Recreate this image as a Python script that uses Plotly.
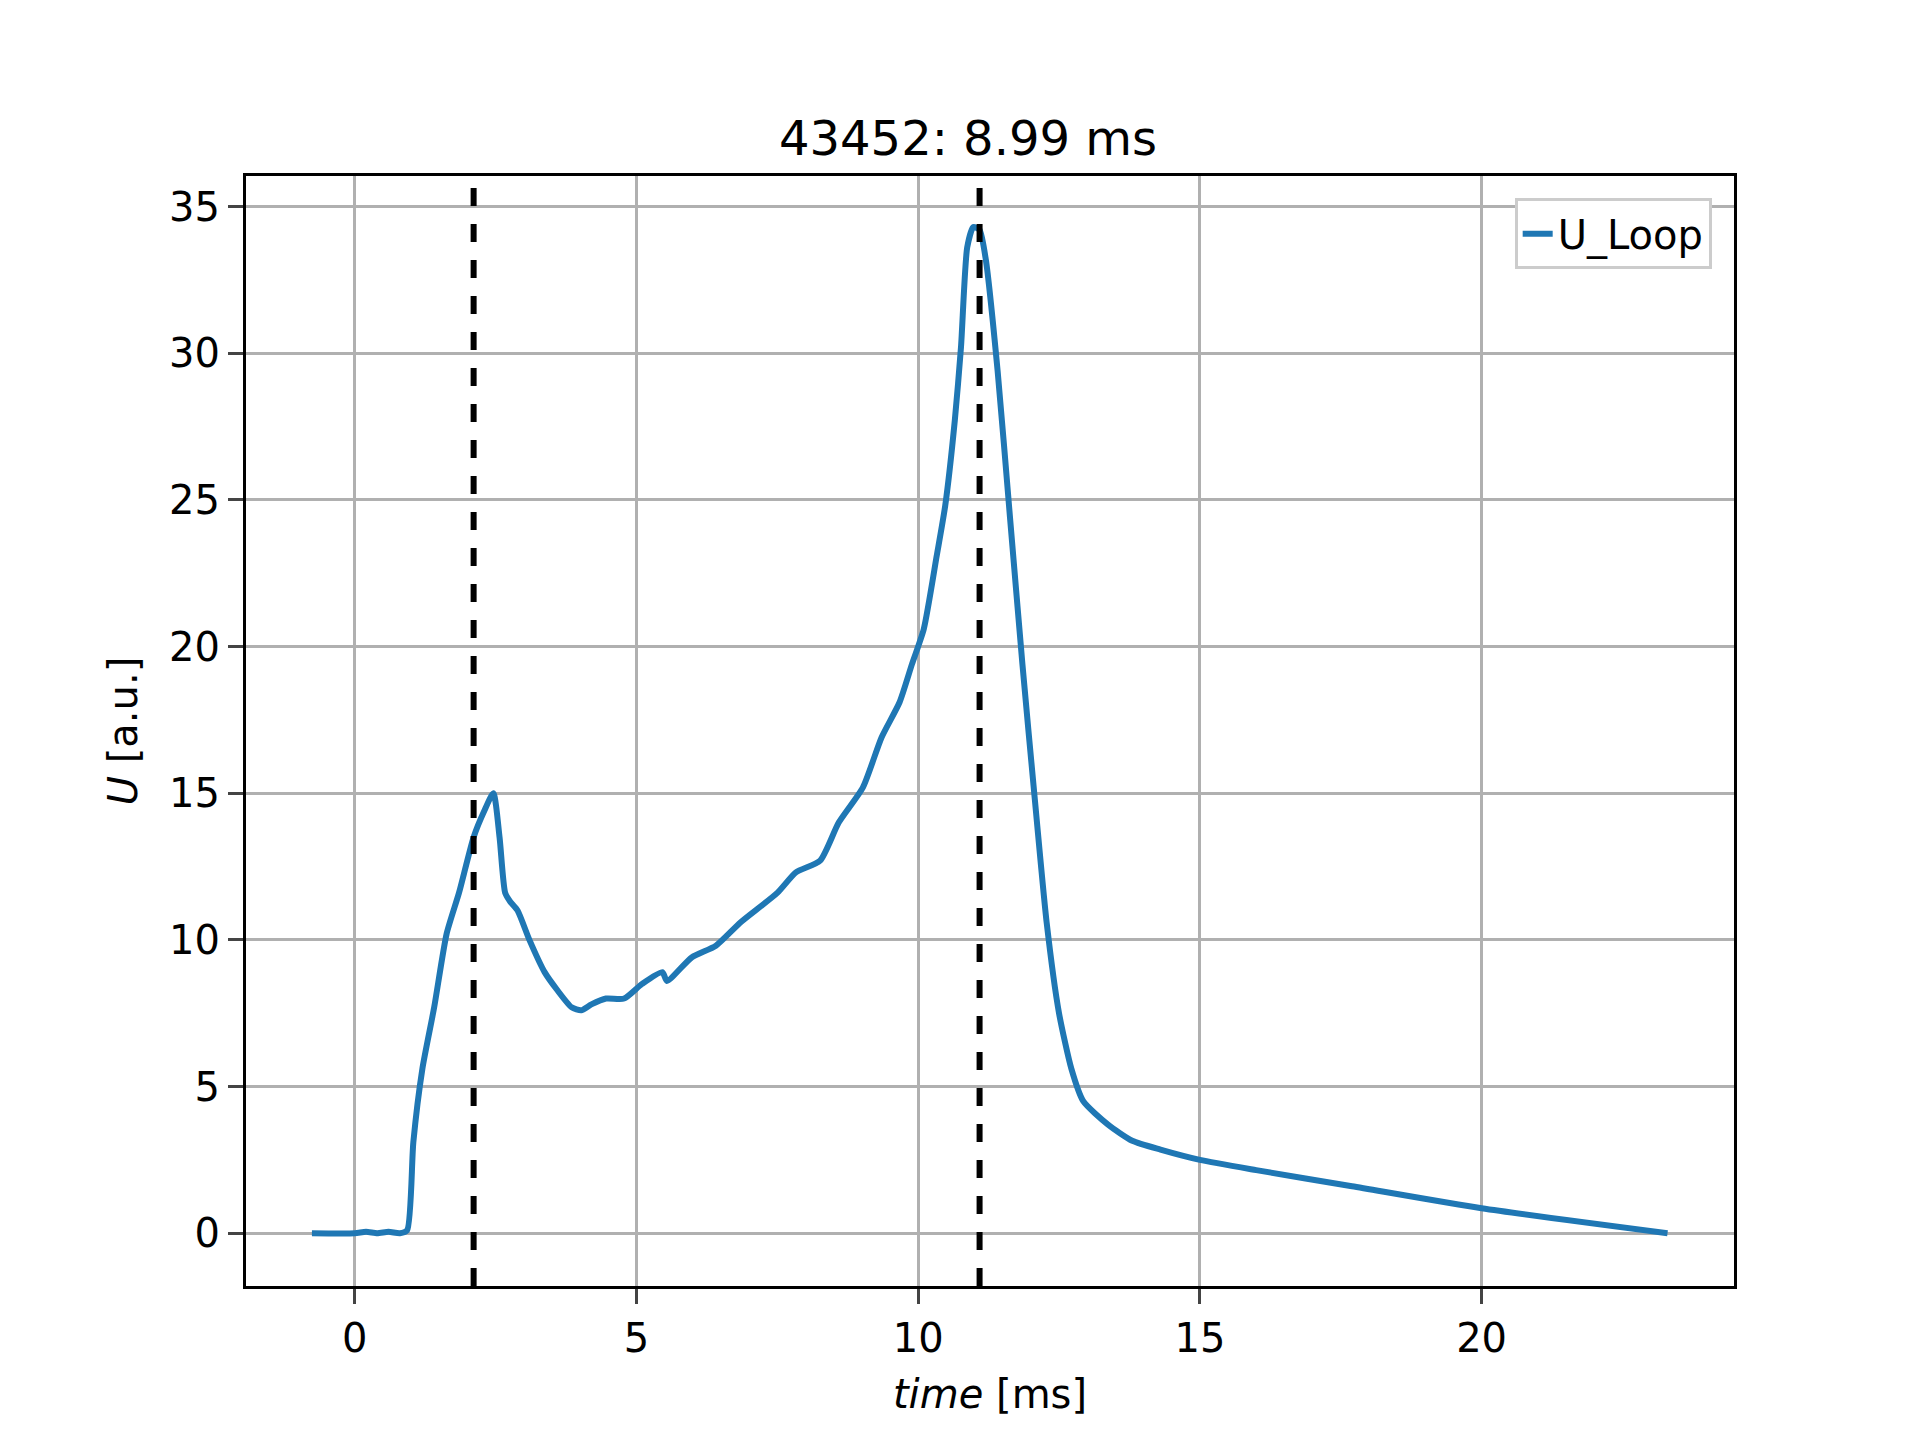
import plotly.graph_objects as go

# loop voltage
time_ms = [-0.76, 0.0, 0.2, 0.4, 0.6, 0.8, 0.93, 1.04, 1.2, 1.41, 1.63, 1.85, 2.11, 2.3, 2.46, 2.57, 2.67,
           2.76, 2.89, 3.1, 3.37, 3.59, 3.85, 4.02, 4.2, 4.46, 4.78, 5.1, 5.46, 5.54, 5.98, 6.41, 6.85,
           7.5, 7.83, 8.26, 8.59, 9.02, 9.35, 9.67, 9.89, 10.1, 10.33, 10.48, 10.65, 10.76, 10.87,
           10.98, 11.09, 11.2, 11.41, 11.63, 11.85, 12.07, 12.28, 12.5, 12.72, 12.93, 13.37, 13.8,
           14.3, 15.0, 16.0, 17.7, 20.0, 23.3]
u_loop = [0.0, 0.0, 0.05, 0.0, 0.05, 0.0, 0.1, 3.1, 5.6, 7.7, 10.2, 11.6, 13.5, 14.4, 15.0, 13.5, 11.6,
          11.3, 11.0, 10.0, 8.9, 8.3, 7.7, 7.6, 7.8, 8.0, 8.0, 8.5, 8.9, 8.6, 9.4, 9.8, 10.6,
          11.6, 12.3, 12.7, 14.0, 15.2, 16.9, 18.1, 19.4, 20.6, 23.1, 24.8, 27.7, 30.2, 33.6,
          34.3, 34.2, 33.2, 29.4, 24.4, 19.4, 14.8, 10.6, 7.5, 5.6, 4.5, 3.7, 3.15,
          2.85, 2.5, 2.15, 1.6, 0.85, 0.0]
markers_ms = [2.11, 11.09]

fig = go.Figure()
fig.add_trace(go.Scatter(x=time_ms, y=u_loop, mode="lines", name="U_Loop", showlegend=True,
                         line=dict(color="#1f77b4", width=6, shape="spline", smoothing=0.6)))
for m in markers_ms:
    fig.add_vline(x=m, line=dict(color="black", width=6, dash="dash"))

ax = dict(showline=True, linecolor="black", linewidth=3, mirror=True, ticks="outside",
          ticklen=15, tickwidth=3, showgrid=True, gridcolor="#b0b0b0", gridwidth=3,
          zeroline=False, tickfont=dict(size=40, color="black"))
fig.update_layout(
    width=1920, height=1440, plot_bgcolor="white", paper_bgcolor="white",
    font=dict(family="DejaVu Sans", color="black"),
    margin=dict(l=238, r=194, t=168, b=162),
    showlegend=True,
    title=dict(text="43452: 8.99 ms", x=0.5, xanchor="center", y=1 - 130 / 1440, yanchor="middle",
               font=dict(size=48)),
    xaxis=dict(ax, range=[-1.93, 24.48], tickvals=[0, 5, 10, 15, 20],
               title=dict(text="<i>time</i> [ms]", font=dict(size=40), standoff=20)),
    yaxis=dict(ax, range=[-1.8, 36.04], tickvals=[0, 5, 10, 15, 20, 25, 30, 35],
               title=dict(text="<i>U</i> [a.u.]", font=dict(size=40), standoff=20)),
    legend=dict(x=0.985, y=0.98, xanchor="right", yanchor="top", bgcolor="white",
                bordercolor="#cccccc", borderwidth=3, font=dict(size=40)),
)
fig.write_html("out.html")
